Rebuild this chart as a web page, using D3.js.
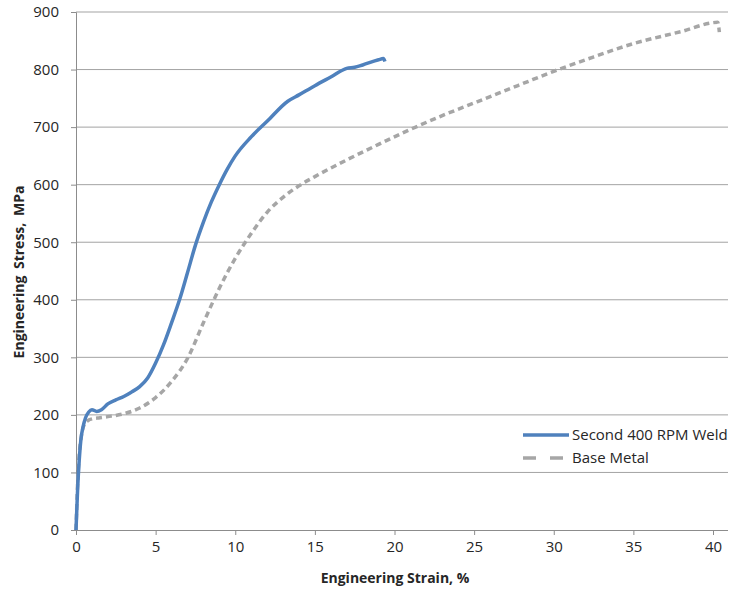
<!DOCTYPE html>
<html>
<head>
<meta charset="utf-8">
<script src="https://d3js.org/d3.v7.min.js"></script>
<style>
  body { margin: 0; background: #fff; }
  svg text { font-family: "Open Sans", sans-serif; fill: #262626; }
</style>
</head>
<body>
<div id="chart"></div>
<script>
// Data (strain %, stress MPa)
var weldStrain = [0, 0.1, 0.2, 0.3, 0.45, 0.6, 0.8, 1.0, 1.3, 1.6, 2.0, 2.5, 3.0, 3.5, 4.0, 4.5, 5.0, 5.5, 6.0, 6.5, 7.0, 7.5, 8.0, 8.5, 9.0, 9.5, 10.0, 11.0, 12.0, 13.3, 14.0, 15.0, 16.0, 17.0, 17.5, 18.0, 19.0, 19.3, 19.4];
var weldStress = [0, 70, 120, 155, 180, 195, 205, 209, 206, 209, 219, 226, 232, 240, 249, 264, 290, 322, 360, 400, 447, 495, 535, 570, 600, 627, 650, 683, 710, 745, 756, 772, 787, 802, 804, 808, 817, 819, 814];

var baseStrain = [0, 0.1, 0.2, 0.35, 0.5, 0.8, 1.0, 1.5, 2.0, 3.0, 4.0, 5.0, 6.0, 7.0, 8.0, 9.0, 10.0, 11.0, 12.0, 13.0, 14.0, 15.0, 17.0, 19.0, 21.0, 23.0, 25.0, 28.0, 30.0, 32.0, 35.0, 38.0, 40.3, 40.4];
var baseStress = [0, 80, 130, 165, 182, 191, 193, 195, 197, 202, 212, 230, 258, 298, 360, 420, 472, 515, 552, 578, 598, 614, 643, 670, 696, 720, 742, 775, 797, 817, 845, 866, 882, 865];

var seriesNames = ["Second 400 RPM Weld", "Base Metal"];
var xTicks = [0, 5, 10, 15, 20, 25, 30, 35, 40];
var yTicks = [0, 100, 200, 300, 400, 500, 600, 700, 800, 900];

var svgWidth = 732, svgHeight = 590;
var margin = { top: 12, right: 2, bottom: 60, left: 76 };
var width = svgWidth - margin.left - margin.right;
var height = svgHeight - margin.top - margin.bottom;

var svg = d3.select("#chart").append("svg")
  .attr("width", svgWidth)
  .attr("height", svgHeight);

var g = svg.append("g")
  .attr("transform", `translate(${margin.left}, ${margin.top})`);

var x = d3.scaleLinear().domain([0, 40]).range([0, 637]);
var y = d3.scaleLinear().domain([0, 900]).range([height, 0]);

// horizontal gridlines
g.append("g")
  .selectAll("line")
  .data(yTicks.filter(d => d > 0))
  .enter().append("line")
    .attr("x1", 0)
    .attr("x2", width - 2)
    .attr("y1", d => y(d))
    .attr("y2", d => y(d))
    .attr("stroke", "#a3a3a3")
    .attr("stroke-width", 1);

// axes
var xAxis = g.append("g")
  .attr("transform", `translate(0, ${height})`)
  .call(d3.axisBottom(x).tickValues(xTicks).tickSize(5).tickPadding(6));
xAxis.select(".domain").attr("d", `M0,0.5H${width - 2}`);

var yAxis = g.append("g")
  .call(d3.axisLeft(y).tickValues(yTicks).tickSize(5).tickPadding(12));

svg.selectAll(".domain").attr("stroke", "#8c8c8c");
svg.selectAll(".tick line").attr("stroke", "#8c8c8c");
svg.selectAll(".tick text")
  .style("font-size", "15px")
  .style("font-family", "'Open Sans', sans-serif")
  .attr("fill", "#262626");

// lines
var line = d3.line()
  .x(d => x(d[0]))
  .y(d => y(d[1]))
  .curve(d3.curveMonotoneX);

var basePts = baseStrain.map((s, i) => [s, baseStress[i]]);
var weldPts = weldStrain.map((s, i) => [s, weldStress[i]]);

g.append("path")
  .datum(basePts)
  .attr("fill", "none")
  .attr("stroke", "#a6a6a6")
  .attr("stroke-width", 3.5)
  .attr("stroke-dasharray", "6,4")
  .attr("d", line);

g.append("path")
  .datum(weldPts)
  .attr("fill", "none")
  .attr("stroke", "#4f81bd")
  .attr("stroke-width", 3.5)
  .attr("stroke-linejoin", "round")
  .attr("d", line);

// axis titles
svg.append("text")
  .attr("x", 395)
  .attr("y", 583)
  .attr("text-anchor", "middle")
  .style("font-size", "14px")
  .style("font-weight", "bold")
  .text("Engineering Strain, %");

svg.append("text")
  .attr("transform", "translate(24, 272) rotate(-90)")
  .attr("text-anchor", "middle")
  .style("font-size", "14px")
  .style("font-weight", "bold")
  .style("word-spacing", "3px")
  .text("Engineering Stress, MPa");

// legend
var legend = svg.append("g").attr("transform", "translate(523, 435)");
var legendStyles = [
  { color: "#4f81bd", dash: null },
  { color: "#a6a6a6", dash: "13,14" }
];
legend.selectAll("g")
  .data(seriesNames)
  .enter().append("g")
    .attr("transform", (d, i) => `translate(0, ${i * 23})`)
    .each(function(d, i) {
      var item = d3.select(this);
      item.append("line")
        .attr("x1", 0).attr("x2", 46)
        .attr("y1", 0).attr("y2", 0)
        .attr("stroke", legendStyles[i].color)
        .attr("stroke-width", 3.5)
        .attr("stroke-dasharray", legendStyles[i].dash);
      item.append("text")
        .attr("x", 49)
        .attr("y", 5)
        .style("font-size", "15px")
        .text(d);
    });
</script>
</body>
</html>
